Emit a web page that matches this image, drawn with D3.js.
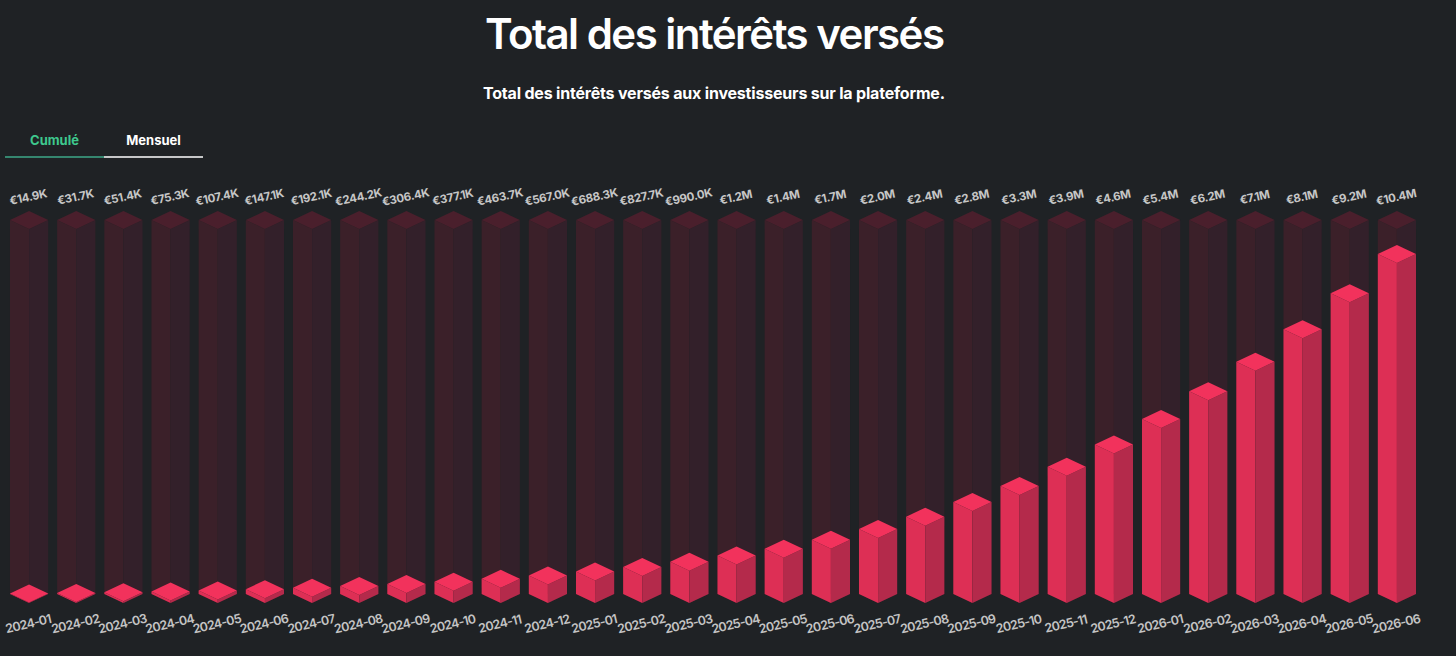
<!DOCTYPE html>
<html>
<head>
<meta charset="utf-8">
<script src="https://cdn.jsdelivr.net/npm/d3@7"></script>
<style>
  html, body { margin: 0; padding: 0; background: #1f2225; }
  svg { display: block; font-family: Inter, "Noto Sans", sans-serif; }
</style>
</head>
<body>
<svg id="chart" width="1456" height="656"></svg>
<script>
const months = ["2024-01","2024-02","2024-03","2024-04","2024-05","2024-06","2024-07","2024-08","2024-09","2024-10","2024-11","2024-12",
  "2025-01","2025-02","2025-03","2025-04","2025-05","2025-06","2025-07","2025-08","2025-09","2025-10","2025-11","2025-12",
  "2026-01","2026-02","2026-03","2026-04","2026-05","2026-06"];
const cumulative = [14900, 31700, 51400, 75300, 107400, 147100, 192100, 244200, 306400, 377100, 463700, 567000,
  688300, 827700, 990000, 1180000, 1390000, 1660000, 1990000, 2370000, 2820000, 3310000, 3900000, 4580000,
  5360000, 6210000, 7120000, 8110000, 9220000, 10420000];
const tabs = ["Cumulé", "Mensuel"];
const title = "Total des intérêts versés";
const subtitle = "Total des intérêts versés aux investisseurs sur la plateforme.";

const svg = d3.select("#chart");
const W = 1456;

// Title
svg.append("text").attr("x", W/2 - 13).attr("y", 49).attr("text-anchor", "middle")
  .attr("fill", "#ffffff").attr("font-size", 42).attr("font-weight", 600)
  .attr("textLength", 460).attr("lengthAdjust", "spacing").text(title);
svg.append("text").attr("x", W/2 - 14).attr("y", 99).attr("text-anchor", "middle")
  .attr("fill", "#ffffff").attr("font-size", 16).attr("font-weight", 700)
  .attr("textLength", 462).attr("lengthAdjust", "spacing").text(subtitle);

// Tabs
const tabX = d3.scaleBand().domain(tabs).range([5, 203]);
svg.selectAll("text.tab").data(tabs).join("text").attr("class", "tab")
  .attr("x", d => tabX(d) + tabX.bandwidth()/2).attr("y", 145)
  .attr("text-anchor", "middle").attr("font-size", 13).attr("font-weight", 700)
  .attr("fill", (d, i) => i === 0 ? "#3ec98e" : "#ffffff").text(d => d);
svg.selectAll("line.tabline").data(tabs).join("line").attr("class", "tabline")
  .attr("x1", d => tabX(d)).attr("x2", d => tabX(d) + tabX.bandwidth())
  .attr("y1", 157).attr("y2", 157).attr("stroke-width", 1.5)
  .attr("stroke", (d, i) => i === 0 ? "#3ea888" : "#ffffff");

// Scales
const x = d3.scaleBand().domain(months).range([5.5, 1420.5]).paddingInner(0.19).paddingOuter(0.095);
const maxV = d3.max(cumulative) * 1.1;
const base = 603;
const y = d3.scaleLinear().domain([0, maxV]).range([base, base - 374]);
const w = x.bandwidth() / 2;
const dy = 9;

function prism(g, cx, h, cols) {
  const yb = base;
  const top = yb - h;
  g.append("polygon").attr("fill", cols[0])
    .attr("points", [[cx - w, yb - dy], [cx, yb], [cx, top], [cx - w, top - dy]].join(" "));
  g.append("polygon").attr("fill", cols[1])
    .attr("points", [[cx, yb], [cx + w, yb - dy], [cx + w, top - dy], [cx, top]].join(" "));
  g.append("polygon").attr("fill", cols[2])
    .attr("points", [[cx - w, top - dy], [cx, top], [cx + w, top - dy], [cx, top - 2*dy]].join(" "));
}

const ghostCols = ["#3b2029", "#33202a", "#4a1f2c"];
const barCols = ["#dd2f55", "#b42a4b", "#f2325c"];
const fmt = v => v >= 1e6 ? "€" + (v/1e6).toFixed(1) + "M" : "€" + (v/1e3).toFixed(1) + "K";

const bars = svg.append("g");
months.forEach((m, i) => {
  const cx = x(m) + w;
  const g = bars.append("g");
  prism(g, cx, base - y(maxV), ghostCols);
  prism(g, cx, base - y(cumulative[i]), barCols);
});

// Value labels
svg.selectAll("text.val").data(months).join("text").attr("class", "val")
  .attr("transform", d => `translate(${x(d) + w},${201}) rotate(-12)`)
  .attr("text-anchor", "middle").attr("font-size", 11.5).attr("font-weight", 700)
  .attr("letter-spacing", -0.3)
  .attr("fill", "#c6c6c6").text((d, i) => fmt(cumulative[i]));

// X axis labels
svg.selectAll("text.xl").data(months).join("text").attr("class", "xl")
  .attr("transform", d => `translate(${x(d) + w},${628}) rotate(-13)`)
  .attr("text-anchor", "middle").attr("font-size", 12.5).attr("font-weight", 600)
  .attr("letter-spacing", -0.7)
  .attr("fill", "#c4c4c4").text(d => d);
</script>
</body>
</html>
